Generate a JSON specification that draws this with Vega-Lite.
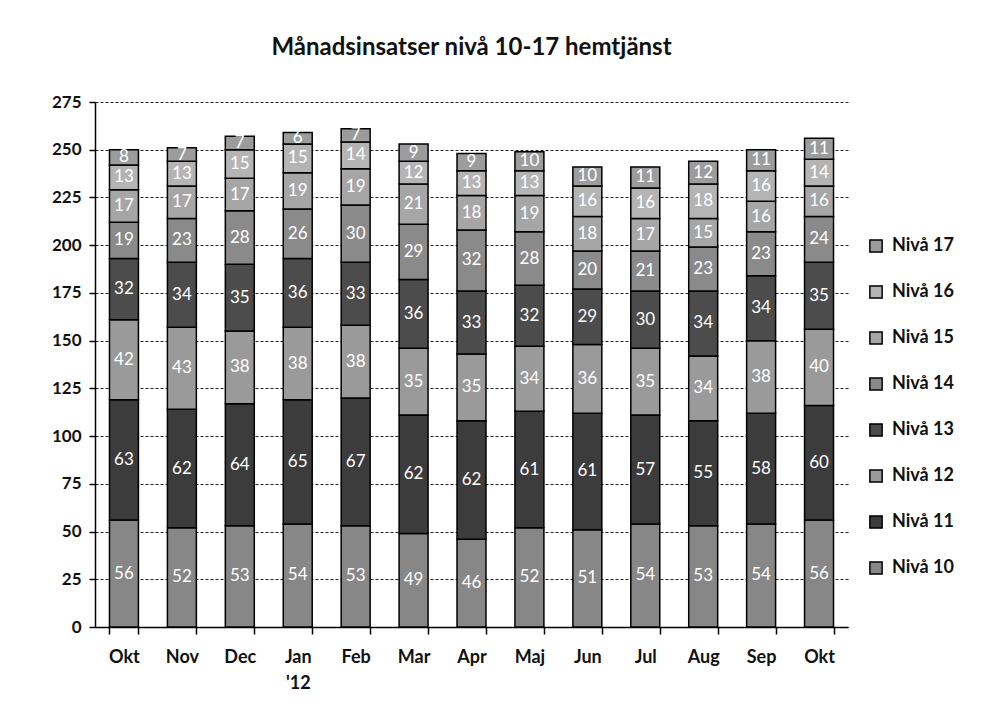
{
  "$schema": "https://vega.github.io/schema/vega-lite/v6.json",
  "width": 753,
  "height": 525,
  "autosize": {"type": "none"},
  "padding": {"left": 95, "top": 102, "right": 158, "bottom": 90},
  "background": "white",
  "title": {"text": "Månadsinsatser nivå 10-17 hemtjänst", "font": "Lato", "fontSize": 24, "fontWeight": "bold", "color": "#111", "anchor": "middle", "offset": 33},
  "data": {"values": [
    {"manad":"Okt 2011","niva":"Nivå 10","n":10,"antal":56},{"manad":"Okt 2011","niva":"Nivå 11","n":11,"antal":63},{"manad":"Okt 2011","niva":"Nivå 12","n":12,"antal":42},{"manad":"Okt 2011","niva":"Nivå 13","n":13,"antal":32},{"manad":"Okt 2011","niva":"Nivå 14","n":14,"antal":19},{"manad":"Okt 2011","niva":"Nivå 15","n":15,"antal":17},{"manad":"Okt 2011","niva":"Nivå 16","n":16,"antal":13},{"manad":"Okt 2011","niva":"Nivå 17","n":17,"antal":8},
    {"manad":"Nov 2011","niva":"Nivå 10","n":10,"antal":52},{"manad":"Nov 2011","niva":"Nivå 11","n":11,"antal":62},{"manad":"Nov 2011","niva":"Nivå 12","n":12,"antal":43},{"manad":"Nov 2011","niva":"Nivå 13","n":13,"antal":34},{"manad":"Nov 2011","niva":"Nivå 14","n":14,"antal":23},{"manad":"Nov 2011","niva":"Nivå 15","n":15,"antal":17},{"manad":"Nov 2011","niva":"Nivå 16","n":16,"antal":13},{"manad":"Nov 2011","niva":"Nivå 17","n":17,"antal":7},
    {"manad":"Dec 2011","niva":"Nivå 10","n":10,"antal":53},{"manad":"Dec 2011","niva":"Nivå 11","n":11,"antal":64},{"manad":"Dec 2011","niva":"Nivå 12","n":12,"antal":38},{"manad":"Dec 2011","niva":"Nivå 13","n":13,"antal":35},{"manad":"Dec 2011","niva":"Nivå 14","n":14,"antal":28},{"manad":"Dec 2011","niva":"Nivå 15","n":15,"antal":17},{"manad":"Dec 2011","niva":"Nivå 16","n":16,"antal":15},{"manad":"Dec 2011","niva":"Nivå 17","n":17,"antal":7},
    {"manad":"Jan 2012","niva":"Nivå 10","n":10,"antal":54},{"manad":"Jan 2012","niva":"Nivå 11","n":11,"antal":65},{"manad":"Jan 2012","niva":"Nivå 12","n":12,"antal":38},{"manad":"Jan 2012","niva":"Nivå 13","n":13,"antal":36},{"manad":"Jan 2012","niva":"Nivå 14","n":14,"antal":26},{"manad":"Jan 2012","niva":"Nivå 15","n":15,"antal":19},{"manad":"Jan 2012","niva":"Nivå 16","n":16,"antal":15},{"manad":"Jan 2012","niva":"Nivå 17","n":17,"antal":6},
    {"manad":"Feb 2012","niva":"Nivå 10","n":10,"antal":53},{"manad":"Feb 2012","niva":"Nivå 11","n":11,"antal":67},{"manad":"Feb 2012","niva":"Nivå 12","n":12,"antal":38},{"manad":"Feb 2012","niva":"Nivå 13","n":13,"antal":33},{"manad":"Feb 2012","niva":"Nivå 14","n":14,"antal":30},{"manad":"Feb 2012","niva":"Nivå 15","n":15,"antal":19},{"manad":"Feb 2012","niva":"Nivå 16","n":16,"antal":14},{"manad":"Feb 2012","niva":"Nivå 17","n":17,"antal":7},
    {"manad":"Mar 2012","niva":"Nivå 10","n":10,"antal":49},{"manad":"Mar 2012","niva":"Nivå 11","n":11,"antal":62},{"manad":"Mar 2012","niva":"Nivå 12","n":12,"antal":35},{"manad":"Mar 2012","niva":"Nivå 13","n":13,"antal":36},{"manad":"Mar 2012","niva":"Nivå 14","n":14,"antal":29},{"manad":"Mar 2012","niva":"Nivå 15","n":15,"antal":21},{"manad":"Mar 2012","niva":"Nivå 16","n":16,"antal":12},{"manad":"Mar 2012","niva":"Nivå 17","n":17,"antal":9},
    {"manad":"Apr 2012","niva":"Nivå 10","n":10,"antal":46},{"manad":"Apr 2012","niva":"Nivå 11","n":11,"antal":62},{"manad":"Apr 2012","niva":"Nivå 12","n":12,"antal":35},{"manad":"Apr 2012","niva":"Nivå 13","n":13,"antal":33},{"manad":"Apr 2012","niva":"Nivå 14","n":14,"antal":32},{"manad":"Apr 2012","niva":"Nivå 15","n":15,"antal":18},{"manad":"Apr 2012","niva":"Nivå 16","n":16,"antal":13},{"manad":"Apr 2012","niva":"Nivå 17","n":17,"antal":9},
    {"manad":"Maj 2012","niva":"Nivå 10","n":10,"antal":52},{"manad":"Maj 2012","niva":"Nivå 11","n":11,"antal":61},{"manad":"Maj 2012","niva":"Nivå 12","n":12,"antal":34},{"manad":"Maj 2012","niva":"Nivå 13","n":13,"antal":32},{"manad":"Maj 2012","niva":"Nivå 14","n":14,"antal":28},{"manad":"Maj 2012","niva":"Nivå 15","n":15,"antal":19},{"manad":"Maj 2012","niva":"Nivå 16","n":16,"antal":13},{"manad":"Maj 2012","niva":"Nivå 17","n":17,"antal":10},
    {"manad":"Jun 2012","niva":"Nivå 10","n":10,"antal":51},{"manad":"Jun 2012","niva":"Nivå 11","n":11,"antal":61},{"manad":"Jun 2012","niva":"Nivå 12","n":12,"antal":36},{"manad":"Jun 2012","niva":"Nivå 13","n":13,"antal":29},{"manad":"Jun 2012","niva":"Nivå 14","n":14,"antal":20},{"manad":"Jun 2012","niva":"Nivå 15","n":15,"antal":18},{"manad":"Jun 2012","niva":"Nivå 16","n":16,"antal":16},{"manad":"Jun 2012","niva":"Nivå 17","n":17,"antal":10},
    {"manad":"Jul 2012","niva":"Nivå 10","n":10,"antal":54},{"manad":"Jul 2012","niva":"Nivå 11","n":11,"antal":57},{"manad":"Jul 2012","niva":"Nivå 12","n":12,"antal":35},{"manad":"Jul 2012","niva":"Nivå 13","n":13,"antal":30},{"manad":"Jul 2012","niva":"Nivå 14","n":14,"antal":21},{"manad":"Jul 2012","niva":"Nivå 15","n":15,"antal":17},{"manad":"Jul 2012","niva":"Nivå 16","n":16,"antal":16},{"manad":"Jul 2012","niva":"Nivå 17","n":17,"antal":11},
    {"manad":"Aug 2012","niva":"Nivå 10","n":10,"antal":53},{"manad":"Aug 2012","niva":"Nivå 11","n":11,"antal":55},{"manad":"Aug 2012","niva":"Nivå 12","n":12,"antal":34},{"manad":"Aug 2012","niva":"Nivå 13","n":13,"antal":34},{"manad":"Aug 2012","niva":"Nivå 14","n":14,"antal":23},{"manad":"Aug 2012","niva":"Nivå 15","n":15,"antal":15},{"manad":"Aug 2012","niva":"Nivå 16","n":16,"antal":18},{"manad":"Aug 2012","niva":"Nivå 17","n":17,"antal":12},
    {"manad":"Sep 2012","niva":"Nivå 10","n":10,"antal":54},{"manad":"Sep 2012","niva":"Nivå 11","n":11,"antal":58},{"manad":"Sep 2012","niva":"Nivå 12","n":12,"antal":38},{"manad":"Sep 2012","niva":"Nivå 13","n":13,"antal":34},{"manad":"Sep 2012","niva":"Nivå 14","n":14,"antal":23},{"manad":"Sep 2012","niva":"Nivå 15","n":15,"antal":16},{"manad":"Sep 2012","niva":"Nivå 16","n":16,"antal":16},{"manad":"Sep 2012","niva":"Nivå 17","n":17,"antal":11},
    {"manad":"Okt 2012","niva":"Nivå 10","n":10,"antal":56},{"manad":"Okt 2012","niva":"Nivå 11","n":11,"antal":60},{"manad":"Okt 2012","niva":"Nivå 12","n":12,"antal":40},{"manad":"Okt 2012","niva":"Nivå 13","n":13,"antal":35},{"manad":"Okt 2012","niva":"Nivå 14","n":14,"antal":24},{"manad":"Okt 2012","niva":"Nivå 15","n":15,"antal":16},{"manad":"Okt 2012","niva":"Nivå 16","n":16,"antal":14},{"manad":"Okt 2012","niva":"Nivå 17","n":17,"antal":11}
  ]},
  "transform": [
    {"stack": "antal", "groupby": ["manad"], "sort": [{"field": "n", "order": "ascending"}], "as": ["y0", "y1"]},
    {"calculate": "(datum.y0 + datum.y1) / 2", "as": "ymid"}
  ],
  "encoding": {
    "x": {
      "field": "manad", "type": "nominal", "sort": null,
      "scale": {"paddingInner": 0.5, "paddingOuter": 0.25},
      "axis": {
        "title": null, "labelAngle": 0, "labelFont": "Lato", "labelFontSize": 18, "labelFontWeight": "bold", "labelColor": "#111",
        "labelExpr": "datum.label == 'Jan 2012' ? ['Jan', \"'12\"] : split(datum.label, ' ')[0]",
        "labelPadding": 14, "labelBaseline": "top", "labelLineHeight": 26,
        "tickBand": "extent", "tickSize": 7, "tickColor": "#000", "tickWidth": 1.5,
        "domainColor": "#000", "domainWidth": 1.5
      }
    }
  },
  "layer": [
    {
      "mark": {"type": "bar", "stroke": "#000", "strokeWidth": 1.5},
      "encoding": {
        "y": {"field": "y0", "type": "quantitative",
          "scale": {"domain": [0, 275], "nice": false},
          "axis": {"title": null, "values": [0,25,50,75,100,125,150,175,200,225,250,275], "labelFont": "Lato", "labelFontSize": 17, "labelFontWeight": "bold", "labelColor": "#111", "labelPadding": 8,
            "grid": true, "gridColor": "#222", "gridDash": [3, 2], "gridWidth": 1,
            "tickColor": "#000", "tickSize": 6, "tickWidth": 1.5, "domainColor": "#000", "domainWidth": 1.5}},
        "y2": {"field": "y1"},
        "color": {
          "field": "niva", "type": "nominal",
          "scale": {
            "domain": ["Nivå 17", "Nivå 16", "Nivå 15", "Nivå 14", "Nivå 13", "Nivå 12", "Nivå 11", "Nivå 10"],
            "range": ["#9c9c9c", "#b4b4b4", "#a6a6a6", "#8a8a8a", "#4c4c4c", "#9a9a9a", "#3c3c3c", "#878787"]
          },
          "legend": {
            "title": null, "orient": "none", "legendX": 772, "legendY": 135,
            "symbolType": "square", "symbolSize": 150, "symbolStrokeColor": "#000", "symbolStrokeWidth": 1.5,
            "labelFont": "Lato", "labelFontSize": 18, "labelFontWeight": "bold", "labelColor": "#111",
            "rowPadding": 26, "labelOffset": 7
          }
        },
        "order": {"field": "n", "type": "quantitative"}
      }
    },
    {
      "mark": {"type": "text", "font": "Lato", "fontSize": 17, "color": "white", "baseline": "middle", "align": "center"},
      "encoding": {
        "y": {"field": "ymid", "type": "quantitative"},
        "text": {"field": "antal", "type": "quantitative"}
      }
    }
  ],
  "config": {"view": {"stroke": null}}
}
